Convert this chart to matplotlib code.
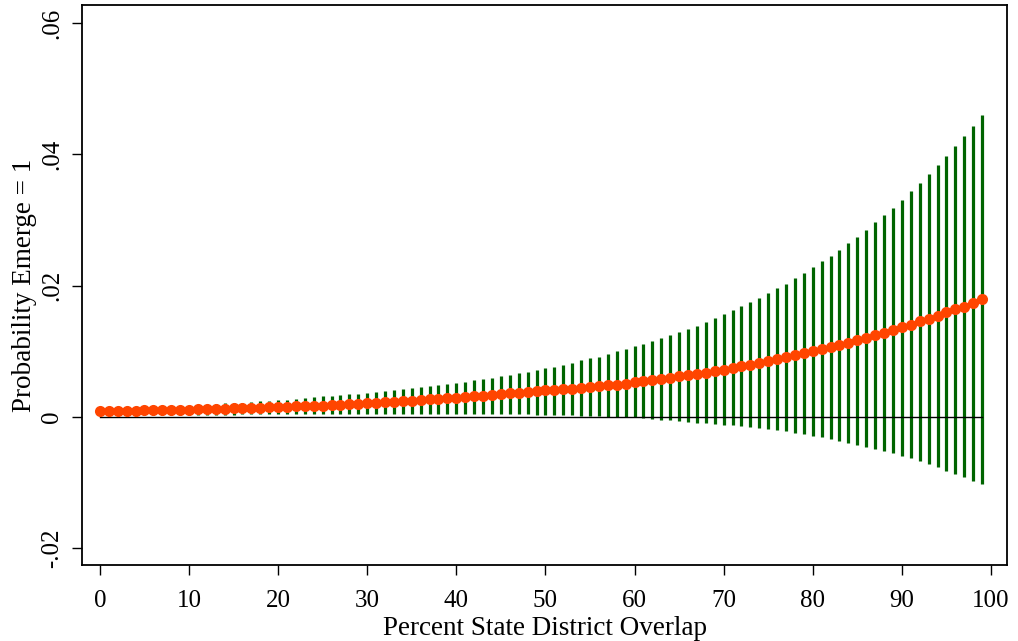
import numpy as np
import matplotlib
matplotlib.use("Agg")
import matplotlib.pyplot as plt

# percent overlap (one point per unit, 0..99)
overlap = list(range(100))

prob_mean = [
    0.00092, 0.00092, 0.00093, 0.00095, 0.00097, 0.00100, 0.00103, 0.00106, 0.00108, 0.00111,
    0.00114, 0.00118, 0.00121, 0.00126, 0.00129, 0.00133, 0.00136, 0.00140, 0.00144, 0.00148,
    0.00152, 0.00156, 0.00161, 0.00165, 0.00170, 0.00174, 0.00179, 0.00186, 0.00193, 0.00201,
    0.00210, 0.00218, 0.00226, 0.00234, 0.00242, 0.00250, 0.00259, 0.00268, 0.00276, 0.00286,
    0.00296, 0.00306, 0.00316, 0.00326, 0.00337, 0.00348, 0.00359, 0.00371, 0.00383, 0.00394,
    0.00405, 0.00410, 0.00420, 0.00432, 0.00444, 0.00456, 0.00468, 0.00481, 0.00494, 0.00509,
    0.00526, 0.00545, 0.00564, 0.00581, 0.00599, 0.00619, 0.00637, 0.00656, 0.00677, 0.00698,
    0.00722, 0.00747, 0.00772, 0.00798, 0.00825, 0.00853, 0.00880, 0.00907, 0.00938, 0.00969,
    0.01000, 0.01036, 0.01070, 0.01103, 0.01133, 0.01169, 0.01210, 0.01250, 0.01282, 0.01323,
    0.01364, 0.01405, 0.01456, 0.01497, 0.01544, 0.01595, 0.01641, 0.01682, 0.01733, 0.01795,
]

prob_upper = [
    0.00125, 0.00128, 0.00131, 0.00135, 0.00139, 0.00143, 0.00148, 0.00153, 0.00158, 0.00164,
    0.00170, 0.00178, 0.00186, 0.00200, 0.00207, 0.00214, 0.00221, 0.00229, 0.00237, 0.00246,
    0.00256, 0.00266, 0.00278, 0.00290, 0.00302, 0.00313, 0.00323, 0.00334, 0.00345, 0.00356,
    0.00367, 0.00380, 0.00393, 0.00407, 0.00421, 0.00436, 0.00451, 0.00467, 0.00483, 0.00500,
    0.00518, 0.00537, 0.00557, 0.00577, 0.00597, 0.00618, 0.00641, 0.00665, 0.00689, 0.00714,
    0.00740, 0.00764, 0.00795, 0.00821, 0.00862, 0.00892, 0.00918, 0.00959, 0.01000, 0.01036,
    0.01077, 0.01118, 0.01159, 0.01205, 0.01246, 0.01297, 0.01344, 0.01390, 0.01451, 0.01508,
    0.01564, 0.01626, 0.01687, 0.01749, 0.01815, 0.01882, 0.01962, 0.02034, 0.02118, 0.02195,
    0.02287, 0.02374, 0.02456, 0.02549, 0.02651, 0.02749, 0.02856, 0.02964, 0.03072, 0.03190,
    0.03308, 0.03436, 0.03564, 0.03703, 0.03836, 0.03974, 0.04123, 0.04282, 0.04436, 0.04605,
]

prob_lower = [
    0.00033, 0.00033, 0.00033, 0.00033, 0.00034, 0.00034, 0.00034, 0.00035, 0.00035, 0.00035,
    0.00036, 0.00036, 0.00037, 0.00037, 0.00038, 0.00038, 0.00039, 0.00039, 0.00040, 0.00041,
    0.00041, 0.00042, 0.00043, 0.00044, 0.00045, 0.00046, 0.00046, 0.00046, 0.00048, 0.00049,
    0.00050, 0.00050, 0.00050, 0.00050, 0.00050, 0.00050, 0.00050, 0.00050, 0.00050, 0.00050,
    0.00050, 0.00050, 0.00050, 0.00049, 0.00047, 0.00045, 0.00043, 0.00041, 0.00039, 0.00037,
    0.00035, 0.00035, 0.00030, 0.00025, 0.00020, 0.00015, 0.00010, 0.00006, 0.00002, -0.00002,
    -0.00007, -0.00015, -0.00031, -0.00041, -0.00051, -0.00062, -0.00072, -0.00087, -0.00097, -0.00108,
    -0.00118, -0.00128, -0.00138, -0.00154, -0.00169, -0.00185, -0.00193, -0.00218, -0.00236, -0.00262,
    -0.00282, -0.00308, -0.00328, -0.00359, -0.00395, -0.00421, -0.00451, -0.00482, -0.00523, -0.00554,
    -0.00595, -0.00631, -0.00672, -0.00723, -0.00769, -0.00821, -0.00872, -0.00918, -0.00974, -0.01026,
]

x_ticks = [0, 10, 20, 30, 40, 50, 60, 70, 80, 90, 100]
y_ticks = [-0.02, 0, 0.02, 0.04, 0.06]
y_ticklabels = ["-.02", "0", ".02", ".04", ".06"]

plt.rcParams["font.family"] = ["Liberation Serif", "DejaVu Serif"]

fig = plt.figure(figsize=(10.18, 6.41), dpi=100)
ax = fig.add_axes([0.0806, 0.118, 0.9086, 0.8745])

# confidence interval spikes
ax.vlines(overlap, prob_lower, prob_upper, color="#006400", linewidth=2.3, zorder=2)
# zero reference line across the data range
ax.plot([overlap[0], overlap[-1]], [0, 0], color="black", linewidth=1.0, zorder=3)
# point estimates
ax.plot(overlap, prob_mean, "o", color="#ff4500", markersize=8, markeredgewidth=0, zorder=4)

ax.set_xlim(-2.0, 101.8)
ax.set_ylim(-0.0226, 0.0628)
ax.set_xticks(x_ticks)
ax.set_yticks(y_ticks)
ax.set_yticklabels(y_ticklabels, rotation=90, va="center")
ax.tick_params(axis="both", direction="out", length=7.5, width=1, labelsize=18, colors="black")
ax.tick_params(axis="x", pad=10)
ax.tick_params(axis="y", pad=6)

for side in ax.spines.values():
    side.set_linewidth(1.3)

ax.set_xlabel("Percent State District Overlap", fontsize=19.5, labelpad=3)
ax.set_ylabel("Probability Emerge = 1", fontsize=19.5, labelpad=3)

fig.savefig("out.png", dpi=100)
